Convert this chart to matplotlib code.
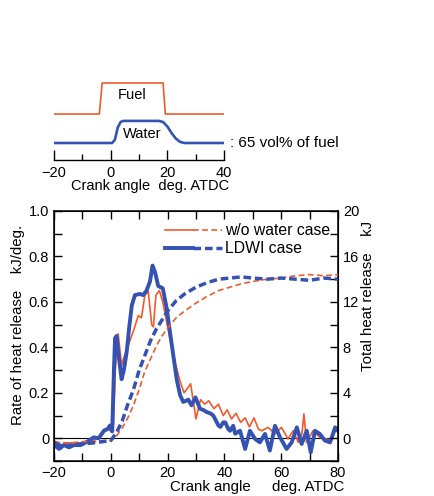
import matplotlib
matplotlib.use("Agg")
import matplotlib.pyplot as plt
from matplotlib.ticker import MultipleLocator, FuncFormatter
from matplotlib.legend_handler import HandlerTuple
from matplotlib.lines import Line2D

plt.rcParams['font.family'] = ['Liberation Sans', 'DejaVu Sans']
plt.rcParams['font.size'] = 10

ORANGE = '#f25a2c'
BLUE = '#3452b4'

# injection timing (inset)
fuel_angle = [-20, -4, -3, 18.5, 19.3, 40]
fuel_level = [0, 0, 1, 1, 0, 0]
water_angle = [-20, 0.5, 1.5, 2.5, 3.5, 4.5, 17, 18.5, 20, 21.5, 23, 24.5, 26, 40]
water_level = [0, 0, 0.15, 0.7, 0.95, 1, 1, 0.95, 0.75, 0.45, 0.2, 0.05, 0, 0]

# rate of heat release, kJ/deg
ldwi_angle = [-20, -18.2, -16.5, -14.7, -13, -10.6, -8.3, -6, -4.3, -2.4, -1.2, -0.3, 0.5,
              1.1, 1.5, 2.0, 2.8, 3.8, 4.6, 5.6, 6.5, 7.4, 8.5, 10.2, 11.4, 12.6, 13.8,
              14.7, 15.6, 16.7, 18.3, 19.7, 20.8, 22, 23.2, 24.4, 25.5, 26.5, 27.3, 28.4,
              29.8, 31.4, 32.5, 33.8, 35, 36.1, 37.9, 38.6, 39.6, 40.3, 41.4, 42, 43.1,
              43.8, 45.5, 47.3, 49, 50.8, 52.5, 54.3, 56, 57.8, 59.6, 61.9, 63.7, 65.5,
              67.2, 69, 70.4, 71.9, 73.6, 75.4, 77.2, 79, 80]
ldwi_rate = [-0.03, -0.047, -0.03, -0.04, -0.03, -0.03, -0.015, 0.004, 0.0, 0.034, 0.04,
             0.056, 0.03, 0.3, 0.44, 0.45, 0.36, 0.26, 0.30, 0.38, 0.49, 0.585, 0.63,
             0.635, 0.63, 0.65, 0.69, 0.76, 0.73, 0.67, 0.66, 0.57, 0.47, 0.365, 0.26,
             0.19, 0.16, 0.165, 0.17, 0.145, 0.18, 0.13, 0.125, 0.115, 0.11, 0.1, 0.056,
             0.05, 0.07, 0.07, 0.04, 0.033, 0.055, 0.02, 0.033, -0.047, 0.033, -0.003,
             -0.018, 0.019, -0.054, 0.055, 0.004, -0.047, -0.018, 0.048, -0.025, 0.033,
             -0.062, 0.033, 0.019, -0.01, -0.018, 0.048, 0.033]

base_angle = [-20, -17.5, -15, -12, -9, -6, -4, -2, -1, 0, 0.9, 1.6, 2.6, 3.8, 4.7, 5.6,
              7.9, 9.7, 10.8, 12, 13.2, 14.4, 15, 15.9, 17.1, 18.3, 19.7, 20.8, 22.6,
              24.4, 25.8, 27, 28.1, 30, 31.6, 33.1, 34.5, 36.3, 37.9, 39.6, 41, 42.5,
              44.1, 45.7, 47.3, 48.8, 50.4, 52, 53.1, 55.4, 57.8, 60.1, 62.4, 64.2, 66,
              67.3, 68, 68.9, 71.2, 73.6, 75.9, 77.7, 78.8, 80]
base_rate = [-0.01, -0.03, -0.02, -0.02, -0.02, -0.01, 0.005, 0.03, 0.045, 0.03, 0.056,
             0.3, 0.46, 0.32, 0.36, 0.39, 0.47, 0.54, 0.53, 0.63, 0.645, 0.5, 0.49, 0.63,
             0.65, 0.6, 0.51, 0.44, 0.335, 0.25, 0.2, 0.22, 0.24, 0.085, 0.17, 0.15,
             0.165, 0.13, 0.15, 0.1, 0.125, 0.085, 0.11, 0.07, 0.09, 0.05, 0.09, 0.04,
             0.033, 0.048, 0.019, 0.048, -0.003, 0.033, -0.018, 0.02, 0.107, -0.018,
             0.033, 0.004, -0.003, -0.01, 0.026, 0.04]

# total heat release, kJ
cum_angle = [-20, -17, -14, -10, -6, -3, 0, 2, 4, 6, 8, 10, 12, 14, 16, 18, 20, 23, 26,
             30, 34, 38, 42, 46, 50, 55, 60, 65, 70, 75, 80]
ldwi_total = [-0.4, -0.7, -0.6, -0.5, -0.4, -0.3, -0.2, 0.5, 1.5, 3.0, 4.3, 6.0, 7.3, 8.6,
              9.6, 10.4, 11.2, 12.1, 12.7, 13.3, 13.7, 14.0, 14.1, 14.2, 14.1, 14.0, 14.1,
              14.0, 13.9, 14.1, 14.0]
base_total = [-0.3, -0.4, -0.4, -0.3, -0.3, -0.2, -0.2, 0.2, 0.9, 1.8, 2.9, 4.3, 5.9, 7.0,
              8.1, 9.0, 9.7, 10.6, 11.2, 11.9, 12.5, 13.0, 13.3, 13.6, 13.8, 14.0, 14.1,
              14.3, 14.4, 14.3, 14.4]

assert len(ldwi_angle) == len(ldwi_rate)
assert len(base_angle) == len(base_rate)

fig = plt.figure(figsize=(4.34, 4.96), dpi=100)

# ---- inset: injection timing
ins = fig.add_axes([54 / 434, 1 - 160 / 496, 170 / 434, 85 / 496])
ins.plot(fuel_angle, [0.541 + 0.365 * v for v in fuel_level], color=ORANGE, lw=1.2)
ins.plot(water_angle, [0.2 + 0.26 * v for v in water_level], color=BLUE, lw=1.9)
ins.set_xlim(-20, 40)
ins.set_ylim(0, 1)
for s in ['left', 'right', 'top']:
    ins.spines[s].set_visible(False)
ins.spines['bottom'].set_linewidth(1.0)
ins.set_yticks([])
ins.xaxis.set_major_locator(MultipleLocator(20))
ins.xaxis.set_minor_locator(MultipleLocator(10))
ins.tick_params(axis='x', which='major', direction='in', length=7, width=1.0, pad=4,
                labelsize=10.5)
ins.tick_params(axis='x', which='minor', direction='in', length=4, width=1.0)
ins.text(7.5, 0.765, 'Fuel', ha='center', va='center', fontsize=10.5)
ins.text(11.1, 0.306, 'Water', ha='center', va='center', fontsize=10.5)
ins.text(42.1, 0.2, ': 65 vol% of fuel', ha='left', va='center', fontsize=11,
         clip_on=False)
fig.text(150 / 434, 1 - 186 / 496, 'Crank angle  deg. ATDC', ha='center', va='center',
         fontsize=10.5)

# ---- main chart
ax = fig.add_axes([54 / 434, 1 - 461 / 496, 284 / 434, 250 / 496])
ax.axhline(0, color='black', lw=0.8)
ax.plot(base_angle, base_rate, color=ORANGE, lw=1.2)
ax.plot(ldwi_angle, ldwi_rate, color=BLUE, lw=2.8)
ax.set_xlim(-20, 80)
ax.set_ylim(-0.1, 1.0)
ax.xaxis.set_major_locator(MultipleLocator(20))
ax.xaxis.set_minor_locator(MultipleLocator(10))
ax.yaxis.set_major_locator(MultipleLocator(0.2))
ax.yaxis.set_minor_locator(MultipleLocator(0.1))
ax.yaxis.set_major_formatter(FuncFormatter(lambda v, p: '0' if abs(v) < 1e-9 else f'{v:.1f}'))
ax.tick_params(which='both', direction='in', length=6, width=1.0, top=True,
               labelsize=10.5)
for s in ax.spines.values():
    s.set_linewidth(1.1)

ax2 = ax.twinx()
ax2.plot(cum_angle, base_total, color=ORANGE, lw=1.2, ls=(0, (3.5, 2)))
ax2.plot(cum_angle, ldwi_total, color=BLUE, lw=2.5, ls=(0, (2.2, 1.1)))
ax2.set_ylim(-2, 20)
ax2.yaxis.set_major_locator(MultipleLocator(4))
ax2.yaxis.set_minor_locator(MultipleLocator(2))
ax2.tick_params(which='both', direction='in', length=6, width=1.0, labelsize=10.5)
ax2.set_xlim(-20, 80)

h_base = (Line2D([], [], color=ORANGE, lw=1.2),
          Line2D([], [], color=ORANGE, lw=1.2, ls=(0, (3.5, 2))))
h_ldwi = (Line2D([], [], color=BLUE, lw=2.8),
          Line2D([], [], color=BLUE, lw=2.5, ls=(0, (2.2, 1.1))))
ax2.legend([h_base, h_ldwi], ['w/o water case', 'LDWI case'],
           handler_map={tuple: HandlerTuple(ndivide=None, pad=0)},
           loc='upper right', bbox_to_anchor=(1.01, 0.995), frameon=False,
           handlelength=3.6, handletextpad=0.2, labelspacing=0.2, fontsize=11.3,
           borderaxespad=0.3)

fig.text(18 / 434, 1 - 325 / 496, 'Rate of heat release    kJ/deg.', rotation=90,
         ha='center', va='center', fontsize=10.8)
fig.text(368 / 434, 1 - 296 / 496, 'Total heat release    kJ', rotation=90,
         ha='center', va='center', fontsize=10.8)
fig.text(210 / 434, 1 - 487 / 496, 'Crank angle', ha='center', va='center', fontsize=10.8)
fig.text(308 / 434, 1 - 487 / 496, 'deg. ATDC', ha='center', va='center', fontsize=10.8)

fig.savefig('out.png', dpi=100)
